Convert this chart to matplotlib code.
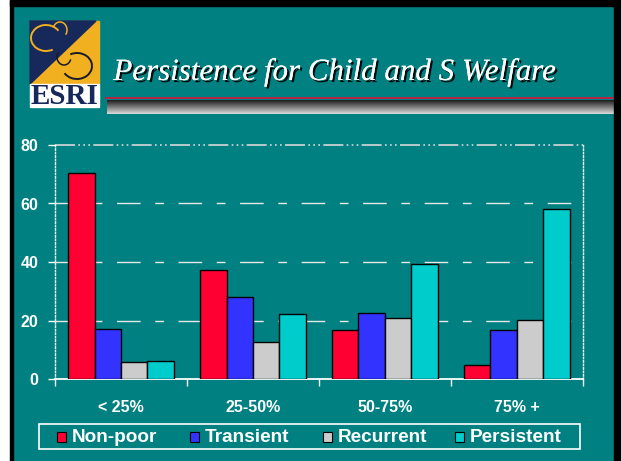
import matplotlib
matplotlib.use('Agg')
import matplotlib.pyplot as plt
import matplotlib.patches as mpatches
import matplotlib.patheffects as pe
import numpy as np

# data
categories = ['< 25%', '25-50%', '50-75%', '75% +']
series = ['Non-poor', 'Transient', 'Recurrent', 'Persistent']
non_poor = [70.5, 37.2, 16.8, 4.8]
transient = [17.0, 27.9, 22.6, 16.6]
recurrent = [5.9, 12.6, 21.0, 20.3]
persistent = [6.3, 22.3, 39.3, 58.1]
y_ticks = [0, 20, 40, 60, 80]

colors = ['#ff0033', '#3333ff', '#cccccc', '#00cccc']
teal = '#008080'
W, H = 621, 461


def main():
    fig = plt.figure(figsize=(W / 100, H / 100), dpi=100, facecolor=teal)

    # background / decoration layer in pixel coords
    bg = fig.add_axes([0, 0, 1, 1], zorder=0)
    bg.set_xlim(0, W)
    bg.set_ylim(H, 0)
    bg.axis('off')
    bg.add_patch(mpatches.Rectangle((0, 0), 10, H, color='white'))
    bg.add_patch(mpatches.Rectangle((10, 0), 3, H, color='black'))
    bg.add_patch(mpatches.Rectangle((10, 0), W, 6, color='black'))
    bg.add_patch(mpatches.Rectangle((614, 0), 7, H, color='black'))

    # logo
    bg.add_patch(mpatches.Rectangle((30, 21), 69, 63, color='#f0b020'))
    bg.add_patch(mpatches.Polygon([(30, 21), (96, 21), (30, 84)], color='#17285a'))
    bg.add_patch(mpatches.Arc((46, 38), 30, 26, theta1=60, theta2=330, color='#f0b020', lw=1.4))
    bg.add_patch(mpatches.Arc((60, 30), 14, 16, theta1=200, theta2=40, color='#f0b020', lw=1.1))
    bg.add_patch(mpatches.Arc((77, 66), 30, 26, theta1=240, theta2=150, color='#1a1a2a', lw=1.4))
    bg.add_patch(mpatches.Arc((64, 57), 14, 16, theta1=20, theta2=220, color='#1a1a2a', lw=1.1))
    bg.add_patch(mpatches.Rectangle((30, 84), 69, 23, color='white'))
    bg.text(64.5, 96.5, 'ESRI', ha='center', va='center', fontsize=21, fontweight='bold',
            color='#17285a', family='Liberation Serif')

    # title underline
    bg.plot([106, 613], [98.3, 98.3], color='#e0103a', lw=1.2)
    grad = np.linspace(0.12, 0.85, 40).reshape(-1, 1)
    bg.imshow(np.repeat(grad, 2, axis=1), cmap='gray', vmin=0, vmax=1, aspect='auto',
              extent=(107, 614, 114, 100), origin='upper')
    bg.set_xlim(0, W)
    bg.set_ylim(H, 0)

    bg.text(335, 80, 'Persistence for Child and S Welfare', ha='center', va='baseline',
            fontsize=22.3, style='italic', color='white', family='Liberation Serif',
            path_effects=[pe.withSimplePatchShadow(offset=(1.5, -1.5), shadow_rgbFace='black',
                                                   alpha=0.9), pe.Normal()])

    # legend
    bg.add_patch(mpatches.Rectangle((39, 424), 541, 25, fill=False, ec='white', lw=1.2))
    sq_x = [57, 190, 323, 455]
    for i, name in enumerate(series):
        bg.add_patch(mpatches.Rectangle((sq_x[i], 432), 9, 10, fc=colors[i], ec='black', lw=0.8))
        bg.text(sq_x[i] + 15, 437.5, name, ha='left', va='center', fontsize=13.7,
                fontweight='bold', color='white', family='Liberation Sans')

    # main chart
    ax = fig.add_axes([55 / W, 1 - 379 / H, (582.7 - 55) / W, (379 - 145) / H], zorder=1)
    ax.patch.set_alpha(0)
    x = np.arange(len(categories))
    width = 0.2
    data = [non_poor, transient, recurrent, persistent]
    for i, vals in enumerate(data):
        ax.bar(x + (i - 1.5) * width, vals, width, color=colors[i], edgecolor='black',
               linewidth=1, zorder=3)

    for v in y_ticks[1:-1]:
        ax.axhline(v, color='#e8e8e8', lw=1, linestyle=(0, (17, 10.5, 6.3, 10.5)), zorder=1)
    ax.axhline(y_ticks[-1], color='#d8d8d8', lw=1.2, clip_on=False,
               linestyle=(0, (12, 2, 1, 2, 1, 2, 1, 2)), zorder=1)

    ax.set_xlim(-0.5, len(categories) - 0.5)
    ax.set_ylim(0, 80)
    ax.set_yticks(y_ticks)
    ax.set_yticklabels([str(v) for v in y_ticks])
    ax.set_xticks(np.arange(len(categories) + 1) - 0.5)
    ax.set_xticklabels([])
    ax.set_xticks(x, categories, minor=True)
    ax.tick_params(axis='x', which='major', direction='out', length=5, color='white', width=1)
    ax.tick_params(axis='x', which='minor', length=0, pad=15)
    ax.tick_params(axis='y', direction='out', length=5, color='white', width=1, pad=7)
    for lab in ax.get_xticklabels(minor=True) + ax.get_yticklabels():
        lab.set_color('white')
        lab.set_fontweight('bold')
        lab.set_fontsize(11.5)
        lab.set_family('Liberation Sans')

    ax.spines['top'].set_visible(False)
    ax.spines['bottom'].set_color('white')
    ax.spines['bottom'].set_linewidth(1.3)
    for s in ['left', 'right']:
        ax.spines[s].set_color('white')
        ax.spines[s].set_linestyle((0, (1, 1.5)))
        ax.spines[s].set_linewidth(1)

    fig.savefig('out.png', dpi=100, facecolor=teal)


if __name__ == '__main__':
    main()
